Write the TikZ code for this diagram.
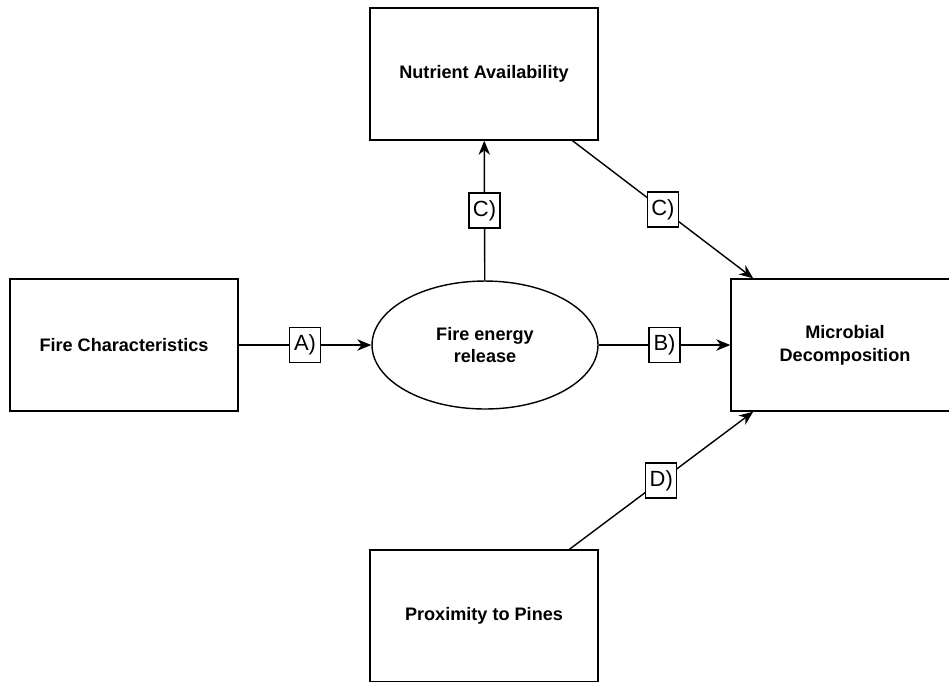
\documentclass[tikz,border=0pt]{standalone}
\usepackage{fontspec}
\setmainfont{Liberation Sans}
\usetikzlibrary{shapes.geometric,arrows.meta}

\begin{document}
\begin{tikzpicture}[x=0.02cm,y=-0.02cm,
    box/.style={draw, line width=0.8pt, minimum width=4.56cm, minimum height=2.64cm,
        align=center, font=\bfseries\fontsize{10.3}{13}\selectfont},
    blob/.style={draw, ellipse, line width=0.8pt, minimum width=4.52cm, minimum height=2.56cm,
        align=center, font=\bfseries\fontsize{10.3}{13}\selectfont},
    lbl/.style={draw, fill=white, line width=0.7pt, minimum width=0.62cm, minimum height=0.7cm,
        inner sep=0pt, font=\fontsize{12.5}{13}\selectfont},
    link/.style={line width=0.8pt, -{Stealth[length=8pt,width=6.5pt,inset=2.5pt]}}]
\clip (0,0) rectangle (949,681);

% the boxes
\node[box]  (fire)  at (124,345) {Fire Characteristics};
\node[blob] (energy) at (485,345) {Fire energy\\release};
\node[box]  (nutr)  at (484,74)  {Nutrient Availability};
\node[box]  (micro) at (845,345) {Microbial\\Decomposition};
\node[box]  (prox)  at (484,616) {Proximity to Pines};

% the links, each with its letter
\draw[link] (fire) -- node[lbl] (la) {A)} (energy);
\draw[link] (energy) -- node[lbl] (lb) {B)} (micro);
\draw[link] (energy) -- node[lbl] (lc) {C)} (nutr);
\draw[link] (nutr.-37) -- node[lbl] (ld) {C)} (micro.144);
\draw[link] (prox.38) -- node[lbl] (le) {D)} (micro.216);

\end{tikzpicture}
\end{document}
